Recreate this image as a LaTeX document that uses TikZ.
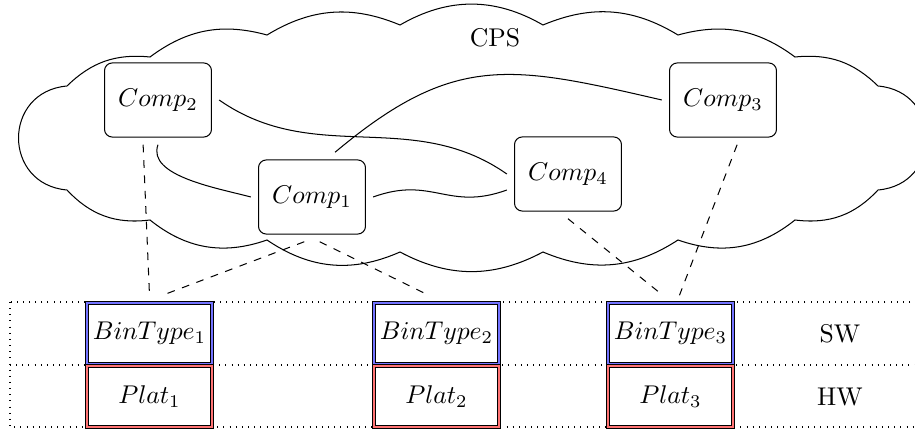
\documentclass[tikz,border=0pt]{standalone}
\usepackage{amsmath,amssymb}
\usepackage{tikz}
\usetikzlibrary{shapes.geometric,calc}
\usetikzlibrary{positioning}

\begin{document}
\begin{tikzpicture}[x=0.39pt,y=0.39pt,yscale=-1,xscale=1]
  \useasboundingbox (0,0) rectangle (915,431);
  \tikzstyle{comp} = [draw,rounded corners=3pt,minimum width=41.7pt,minimum height=28.9pt,outer sep=3pt]
  \tikzstyle{swbox} = [draw,double=blue!55,double distance=0.8pt,minimum width=48.8pt,minimum height=23.8pt,inner sep=0pt,outer sep=3pt]
  \tikzstyle{hwbox} = [draw,double=red!55,double distance=0.8pt,minimum width=48.8pt,minimum height=23.8pt,inner sep=0pt,outer sep=3pt]
  \tikzstyle{link} = [dashed]
  %Draw the cloud, puff by puff (y axis points down, so bend right goes outwards)
  \draw (67,86) to[bend right=25] (150,57) to[bend right=26] (267,35)
    to[bend right=27] (400,25) to[bend right=30] (543,25)
    to[bend right=27] (678,35) to[bend right=26] (795,57)
    to[bend right=25] (878,86) to[bend right=85,looseness=1.6] (878,190)
    to[bend right=27] (795,220) to[bend right=29] (678,240)
    to[bend right=28] (543,252) to[bend right=28] (400,252)
    to[bend right=29] (267,240) to[bend right=29] (150,220)
    to[bend right=27] (67,190) to[bend right=85,looseness=1.6] cycle;
  \node (cps) at (495,38) {CPS};
  %Draw the components
  \node[comp] (comp2) at (158,100) {$Comp_2$};
  \node[comp] (comp3) at (723,100) {$Comp_3$};
  \node[comp] (comp1) at (312,197) {$Comp_1$};
  \node[comp] (comp4) at (568,174) {$Comp_4$};
  %Draw the layers
  \draw[dotted] (10,302) rectangle (935,427);
  \draw[dotted] (10,365) -- (935,365);
  \node[swbox] (bin1) at (149.5,333.5) {$BinType_1$};
  \node[swbox] (bin2) at (436.5,333.5) {$BinType_2$};
  \node[swbox] (bin3) at (670.5,333.5) {$BinType_3$};
  \node[hwbox] (plat1) at (149.5,396.5) {$Plat_1$};
  \node[hwbox] (plat2) at (436.5,396.5) {$Plat_2$};
  \node[hwbox] (plat3) at (670.5,396.5) {$Plat_3$};
  \node (sw) at (840,334) {SW};
  \node (hw) at (840,397) {HW};
  %Connections between components (angles are flipped by yscale)
  \draw (comp2.east) to[out=35,in=-145] (comp4.west);
  \draw (comp2.south) to[out=110,in=-165,looseness=0.8] (comp1.west);
  \draw ([xshift=9pt]comp1.north) to[out=-40,in=-167,looseness=1.2] (comp3.west);
  \draw (comp1.east) to[out=-20,in=160,looseness=1.2] ($(comp4.west)+(0,16)$);
  %Deployment links
  \draw[link] ([xshift=-5.8pt]comp2.south) -- (bin1.north);
  \draw[link] ([xshift=-3pt]comp1.south) -- ([xshift=5pt]bin1.north);
  \draw[link] ([xshift=3pt]comp1.south) -- ([xshift=-3pt]bin2.north);
  \draw[link] (comp4.south) -- ([xshift=-3pt]bin3.north);
  \draw[link] ([xshift=5.5pt]comp3.south) -- ([xshift=3.5pt]bin3.north);
\end{tikzpicture}
\end{document}
